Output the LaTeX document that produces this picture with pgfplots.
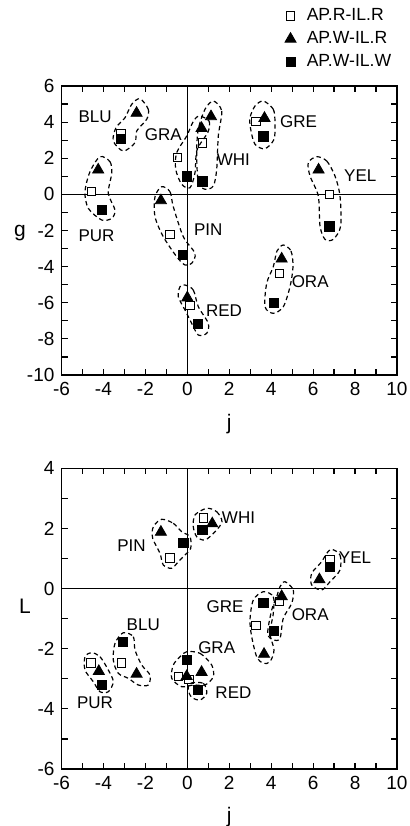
\documentclass[border=0pt]{standalone}
\usepackage{fontspec}
\setmainfont{Liberation Sans}
\usepackage{pgfplots}
\pgfplotsset{compat=1.18}
\pgfplotsset{
  myax/.style={
    scale only axis, width=167.75pt,
    xmin=-6, xmax=10, xtick={-6,-4,...,10}, minor xtick={-5,-3,...,9},
    tick align=inside, xtick pos=both, ytick pos=both,
    major tick length=3pt, minor tick length=3pt,
    tick style={black, line width=0.6pt},
    axis line style={line width=0.8pt},
    ticklabel style={font=\fontsize{9.5}{10}\selectfont},
    label style={font=\fontsize{10.5}{11}\selectfont},
    /pgf/number format/assume math mode=true,
  },
  opn/.style={only marks, mark=square*, mark size=2.1pt, mark options={fill=white, draw=black, line width=0.5pt}},
  tri/.style={only marks, mark=triangle*, mark size=3.2pt, mark options={fill=black, draw=black}},
  fil/.style={only marks, mark=square*, mark size=2.3pt, mark options={fill=black, draw=black}},
}
\tikzset{outl/.style={line width=0.6pt, dash pattern=on 2.2pt off 1.6pt},
  lab/.style={font=\fontsize{8.5}{9}\selectfont, inner sep=0pt}}
\begin{document}
\begin{tikzpicture}
\useasboundingbox (0,0) rectangle (205pt,-413pt);
% ---------- top axis ----------
\begin{axis}[myax, height=144.5pt, at={(30.75pt,-187.5pt)}, anchor=south west,
  ymin=-10, ymax=6, ytick={-10,-8,...,6}, minor ytick={-9,-7,...,5},
  xlabel={j}, xlabel style={at={(axis description cs:0.5,-0.17)}, anchor=center},
  ylabel={g}, ylabel style={at={(axis description cs:-0.124,0.49)}, anchor=center, rotate=-90},
  legend style={at={(axis description cs:0.656,1.277)}, anchor=north west, draw=none, fill=none,
    font=\fontsize{8.8}{9.5}\selectfont, row sep=2.0pt, inner sep=0pt, nodes={inner sep=1pt}},
  legend image code/.code={\path[draw=none,fill=none] (0cm,0cm) rectangle (0.4cm,0.01cm); \draw[#1] plot coordinates {(0.15cm,0cm)};},
  legend cell align=left]
\draw[line width=0.6pt] (axis cs:0,-10) -- (axis cs:0,6);
\draw[line width=0.6pt] (axis cs:-6,0) -- (axis cs:10,0);
% AP.R-IL.R
\addplot[opn] coordinates {(-3.17,3.34) (-0.46,2.05) (0.72,2.84) (3.28,4.04) (6.78,-0.02) (-4.57,0.17) (-0.83,-2.23) (0.13,-6.14) (4.39,-4.39)};
% AP.W-IL.R
\addplot[tri] coordinates {(-2.42,4.5) (0.68,3.66) (1.13,4.31) (3.68,4.22) (6.26,1.36) (-4.25,1.36) (-1.26,-0.34) (0.0,-5.72) (4.5,-3.57)};
% AP.W-IL.W
\addplot[fil] coordinates {(-3.17,3.08) (-0.03,1.0) (0.72,0.72) (3.63,3.21) (6.78,-1.77) (-4.09,-0.85) (-0.22,-3.34) (0.49,-7.19) (4.14,-6.02)};
\legend{AP.R-IL.R, AP.W-IL.R, AP.W-IL.W}
\node[lab] at (axis cs:-4.4,4.32) {BLU};
\node[lab] at (axis cs:-1.15,3.3) {GRA};
\node[lab] at (axis cs:2.2,1.95) {WHI};
\node[lab] at (axis cs:5.3,4.04) {GRE};
\node[lab] at (axis cs:8.25,1.03) {YEL};
\node[lab] at (axis cs:-4.33,-2.27) {PUR};
\node[lab] at (axis cs:1.0,-1.95) {PIN};
\node[lab] at (axis cs:1.75,-6.45) {RED};
\node[lab] at (axis cs:5.86,-4.85) {ORA};
\end{axis}
% ---------- bottom axis ----------
\begin{axis}[myax, height=150.35pt, at={(30.75pt,-384.5pt)}, anchor=south west,
  ymin=-6, ymax=4, ytick={-6,-4,...,4}, minor ytick={-5,-3,...,3},
  xlabel={j}, xlabel style={at={(axis description cs:0.5,-0.16)}, anchor=center},
  ylabel={L}, ylabel style={at={(axis description cs:-0.109,0.54)}, anchor=center, rotate=-90}]
\draw[line width=0.6pt] (axis cs:0,-6) -- (axis cs:0,4);
\draw[line width=0.6pt] (axis cs:-6,0) -- (axis cs:10,0);
\addplot[opn] coordinates {(0.76,2.35) (-0.83,1.02) (6.81,0.96) (4.39,-0.42) (3.28,-1.22) (-3.14,-2.47) (-4.6,-2.47) (-0.43,-2.92) (0.08,-3.03)};
\addplot[tri] coordinates {(1.19,2.16) (-1.26,1.88) (6.3,0.30) (4.5,-0.26) (3.66,-2.18) (-2.42,-2.84) (-4.22,-2.75) (0.68,-2.78) (-0.03,-2.92)};
\addplot[fil] coordinates {(0.72,1.94) (-0.19,1.52) (6.81,0.72) (4.14,-1.40) (3.63,-0.48) (-3.09,-1.78) (-4.09,-3.19) (-0.03,-2.38) (0.49,-3.36)};
\node[lab] at (axis cs:2.44,2.35) {WHI};
\node[lab] at (axis cs:-2.66,1.43) {PIN};
\node[lab] at (axis cs:8.0,1.02) {YEL};
\node[lab] at (axis cs:1.8,-0.59) {GRE};
\node[lab] at (axis cs:5.86,-0.86) {ORA};
\node[lab] at (axis cs:-2.1,-1.2) {BLU};
\node[lab] at (axis cs:1.4,-1.97) {GRA};
\node[lab] at (axis cs:2.2,-3.47) {RED};
\node[lab] at (axis cs:-4.4,-3.8) {PUR};
\end{axis}
% ---------- dashed group outlines (pixel units of the reference) ----------
\begin{scope}[x=0.5pt, y=-0.5pt]
% top
\draw[outl] plot[smooth cycle] coordinates {(140,98.7) (148.3,109.3) (146.7,119.3) (136.7,131) (135,142.7) (123.3,151) (113.3,141) (116,127.7) (125,117.7) (131.7,104.3)};
\draw[outl] plot[smooth cycle] coordinates {(199,116) (209,121) (208,132) (197,150) (195,172.7) (190,187.7) (181.7,184.3) (175.7,169.3) (176.7,152.7) (186.7,136) (193,122)};
\draw[outl] plot[smooth cycle] coordinates {(213.3,101) (221.7,111) (218.3,136) (216.7,169.3) (213.3,186) (205,189.3) (198.3,182.7) (196.7,152.7) (198.3,129.3) (205,109.3)};
\draw[outl] plot[smooth cycle] coordinates {(263.3,101) (273.3,109.3) (275,122.7) (274,139.3) (265,148.7) (255,144.3) (250.7,129.3) (250,117.7) (255,106)};
\draw[outl] plot[smooth cycle] coordinates {(316.7,156.7) (326.7,161) (335,176) (340,196) (340.7,226) (333.3,239.3) (325,239.3) (320,226) (318.3,196) (310,176) (308.3,162.7)};
\draw[outl] plot[smooth cycle] coordinates {(100,156.7) (110,161.7) (111.7,173.3) (108.3,193.3) (115,210) (111.7,218.3) (101.7,220) (88.3,208.3) (85,191.7) (90,171.7)};
\draw[outl] plot[smooth cycle] coordinates {(161.7,186.7) (170,191.7) (173.3,206.7) (183.3,236.7) (195,253.3) (191.7,263.3) (185,265) (176.7,256.7) (163.3,236.7) (155,216.7) (155,196.7)};
\draw[outl] plot[smooth cycle] coordinates {(185,285) (193.3,290) (198.3,306.7) (208.3,323.3) (206.7,333.3) (198.3,335) (191.7,323.3) (185,310) (178.3,296.7) (180,286.7)};
\draw[outl] plot[smooth cycle] coordinates {(283.3,245) (291,251) (293,266.7) (290,286.7) (283.3,306.7) (273.3,313.3) (265,306.7) (266.7,283.3) (273.3,266.7) (277,251)};
% bottom
\draw[outl] plot[smooth cycle] coordinates {(206.7,508.3) (216.7,511.7) (222,521.7) (215,531.7) (205,540) (196.7,536.7) (193.3,526.7) (195,515)};
\draw[outl] plot[smooth cycle] coordinates {(161.7,519.3) (173.3,523.3) (181.7,531.7) (190,536.7) (190.7,548.3) (185,555) (178.3,561.7) (171.7,568.3) (163.3,565) (160,553.3) (152.7,538.3) (153.3,526.7)};
\draw[outl] plot[smooth cycle] coordinates {(331.7,549.3) (340,555) (340,570) (330,581.7) (321.7,590) (311.7,585) (311.7,573.3) (321.7,561.7) (326.7,553.3)};
\draw[outl] plot[smooth cycle] coordinates {(285,581.7) (293.3,590) (291.7,603.3) (283.3,618.3) (280,638.3) (273.3,640) (267.7,633.3) (271.7,610) (276.7,596.7) (280,586.7)};
\draw[outl] plot[smooth cycle] coordinates {(263.3,591.7) (273.3,596.7) (273.3,613.3) (270,633.3) (274,650) (270,661.7) (263.3,663.3) (256.7,656.7) (251.7,636.7) (250,620) (253.3,600)};
\draw[outl] plot[smooth cycle] coordinates {(123.3,632.7) (133.3,636.7) (135,650) (141.7,665) (150,675) (148.3,685) (138.3,685) (128.3,678.3) (118.3,673.3) (113.3,660) (115,643.3)};
\draw[outl] plot[smooth cycle] coordinates {(91.7,652.7) (100,656.7) (108.3,670) (113.3,681.7) (108.3,691.7) (100,691.7) (93.3,681.7) (85,670) (85,656.7)};
\draw[outl] plot[smooth cycle] coordinates {(186.7,651.7) (200,653.3) (211.7,665) (213.3,676.7) (205,685) (193.3,685) (181.7,686.7) (171.7,678.3) (173.3,665) (180,656.7)};
\draw[outl] plot[smooth cycle] coordinates {(190,683.3) (203.3,683.3) (206.7,693.3) (200,700) (191.7,697.3) (188.3,690)};
\end{scope}
\end{tikzpicture}
\end{document}
